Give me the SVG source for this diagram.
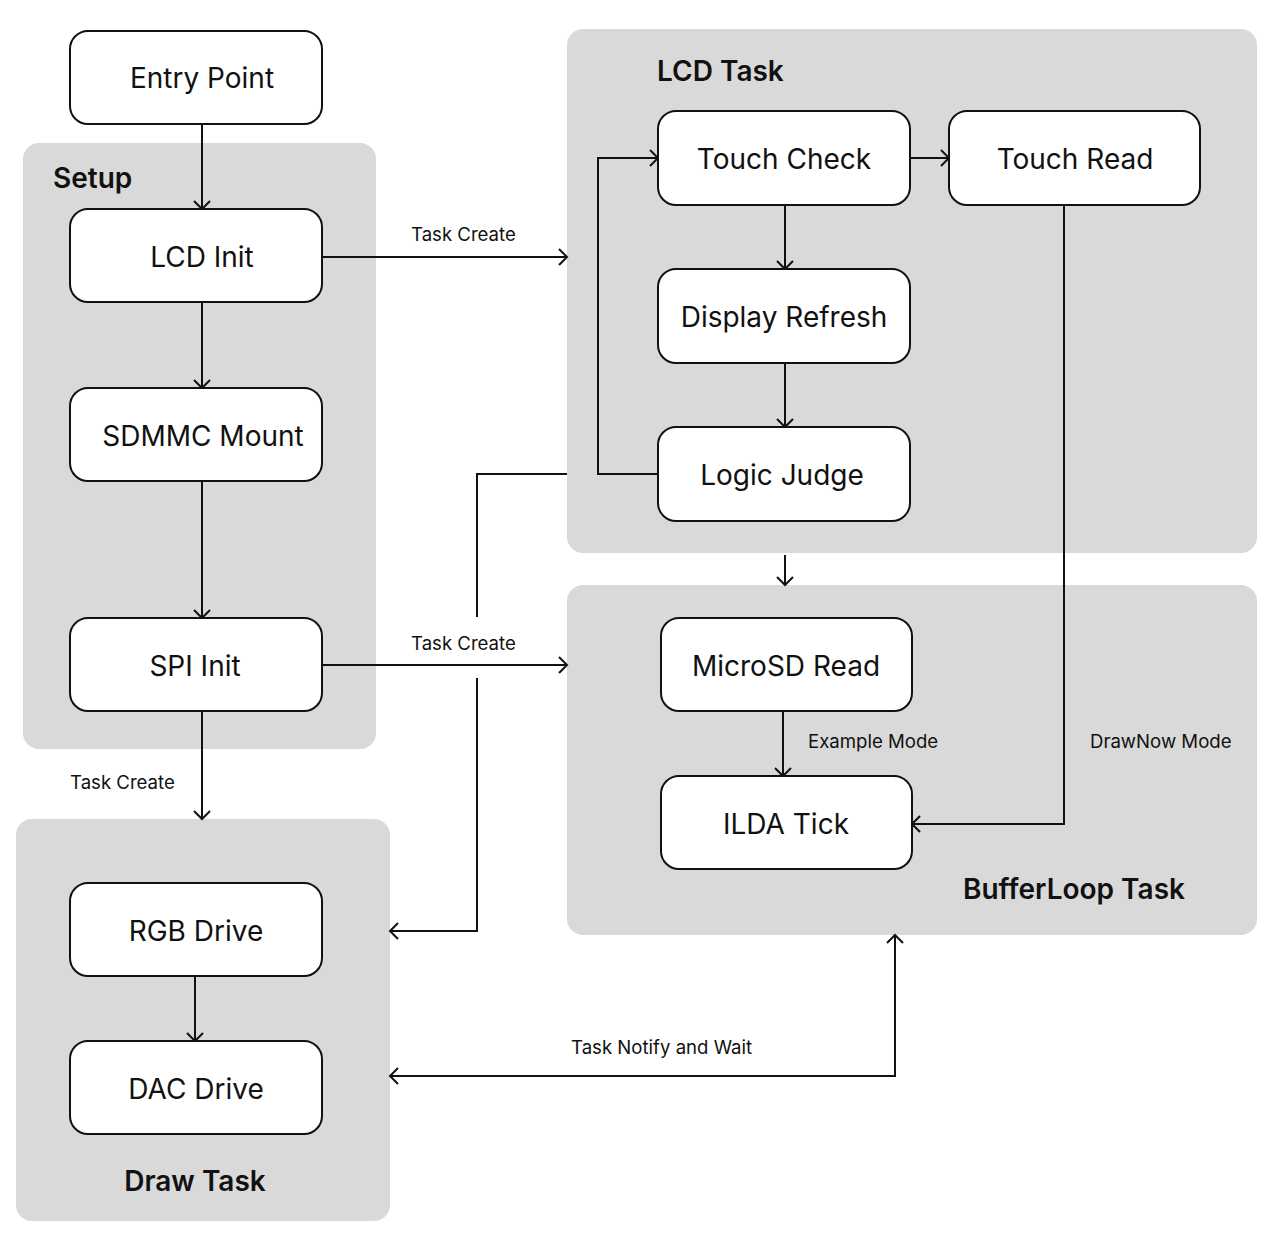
<svg xmlns="http://www.w3.org/2000/svg" width="1280" height="1250" viewBox="0 0 1280 1250">
<style>
.grp{fill:#d9d9d9;stroke:none}
.node{fill:#fff;stroke:#111;stroke-width:2}
.nt{font-family:Inter,"Noto Sans","Liberation Sans",sans-serif;font-size:28px;fill:#111;text-anchor:middle}
.gt{font-family:Inter,"Noto Sans","Liberation Sans",sans-serif;font-size:28px;font-weight:600;fill:#111}
.lt{font-family:Inter,"Noto Sans","Liberation Sans",sans-serif;font-size:18.6px;fill:#111}
.c{fill:none;stroke:#111;stroke-width:2}
</style>
<defs>
<marker id="ah" markerUnits="userSpaceOnUse" markerWidth="12" markerHeight="20" refX="10" refY="10" orient="auto-start-reverse" viewBox="0 0 12 20">
<path d="M2,2 L10,10 L2,18" fill="none" stroke="#111" stroke-width="2"/>
</marker>
</defs>
<rect width="1280" height="1250" fill="#fff"/>
<g id="group-setup">
<rect class="grp" x="23" y="143" width="353" height="606" rx="16"/>
<text class="gt" x="53" y="188">Setup</text>
</g>
<g id="group-draw">
<rect class="grp" x="16" y="819" width="374" height="402" rx="16"/>
<text class="gt" x="195" y="1191" text-anchor="middle">Draw Task</text>
</g>
<g id="group-lcd">
<rect class="grp" x="567" y="29" width="690" height="524" rx="16"/>
<text class="gt" x="657" y="81">LCD Task</text>
</g>
<g id="group-buffer">
<rect class="grp" x="567" y="585" width="690" height="350" rx="16"/>
<text class="gt" x="963" y="899">BufferLoop Task</text>
</g>
<g id="connectors">
<path class="c" d="M202,124 V209" marker-end="url(#ah)"/>
<path class="c" d="M202,302 V388" marker-end="url(#ah)"/>
<path class="c" d="M202,481 V618" marker-end="url(#ah)"/>
<path class="c" d="M202,711 V819" marker-end="url(#ah)"/>
<text class="lt" x="70" y="789">Task Create</text>
<path class="c" d="M322,257 H567" marker-end="url(#ah)"/>
<text class="lt" x="411" y="241">Task Create</text>
<path class="c" d="M322,665 H567" marker-end="url(#ah)"/>
<text class="lt" x="411" y="650">Task Create</text>
<path class="c" d="M567,474 H477 V617"/>
<path class="c" d="M477,678 V931 H390" marker-end="url(#ah)"/>
<path class="c" d="M658,474 H598 V158 H658" marker-end="url(#ah)"/>
<path class="c" d="M910,158 H949" marker-end="url(#ah)"/>
<path class="c" d="M785,205 V269" marker-end="url(#ah)"/>
<path class="c" d="M785,363 V427" marker-end="url(#ah)"/>
<path class="c" d="M785,555 V585" marker-end="url(#ah)"/>
<path class="c" d="M1064,205 V824 H912" marker-end="url(#ah)"/>
<text class="lt" x="1090" y="748">DrawNow Mode</text>
<path class="c" d="M783,711 V776" marker-end="url(#ah)"/>
<text class="lt" x="808" y="748">Example Mode</text>
<path class="c" d="M195,976 V1041" marker-end="url(#ah)"/>
<path class="c" d="M895,935 V1076 H390" marker-start="url(#ah)" marker-end="url(#ah)"/>
<text class="lt" x="571" y="1054">Task Notify and Wait</text>
</g>
<g id="node-entry"><rect class="node" x="70" y="31" width="252" height="93" rx="18"/><text class="nt" x="202" y="87.5">Entry Point</text></g>
<g id="node-lcdinit"><rect class="node" x="70" y="209" width="252" height="93" rx="18"/><text class="nt" x="202" y="266.5">LCD Init</text></g>
<g id="node-sdmmc"><rect class="node" x="70" y="388" width="252" height="93" rx="18"/><text class="nt" x="203" y="445.5">SDMMC Mount</text></g>
<g id="node-spi"><rect class="node" x="70" y="618" width="252" height="93" rx="18"/><text class="nt" x="195" y="675.5">SPI Init</text></g>
<g id="node-rgb"><rect class="node" x="70" y="883" width="252" height="93" rx="18"/><text class="nt" x="196" y="940.5">RGB Drive</text></g>
<g id="node-dac"><rect class="node" x="70" y="1041" width="252" height="93" rx="18"/><text class="nt" x="196" y="1098.5">DAC Drive</text></g>
<g id="node-touchcheck"><rect class="node" x="658" y="111" width="252" height="94" rx="18"/><text class="nt" x="784" y="168.5">Touch Check</text></g>
<g id="node-touchread"><rect class="node" x="949" y="111" width="251" height="94" rx="18"/><text class="nt" x="1075" y="168.5">Touch Read</text></g>
<g id="node-display"><rect class="node" x="658" y="269" width="252" height="94" rx="18"/><text class="nt" x="784" y="326.5">Display Refresh</text></g>
<g id="node-logic"><rect class="node" x="658" y="427" width="252" height="94" rx="18"/><text class="nt" x="782" y="484.5">Logic Judge</text></g>
<g id="node-microsd"><rect class="node" x="661" y="618" width="251" height="93" rx="18"/><text class="nt" x="786" y="675.5">MicroSD Read</text></g>
<g id="node-ilda"><rect class="node" x="661" y="776" width="251" height="93" rx="18"/><text class="nt" x="786" y="833.5">ILDA Tick</text></g>
</svg>
